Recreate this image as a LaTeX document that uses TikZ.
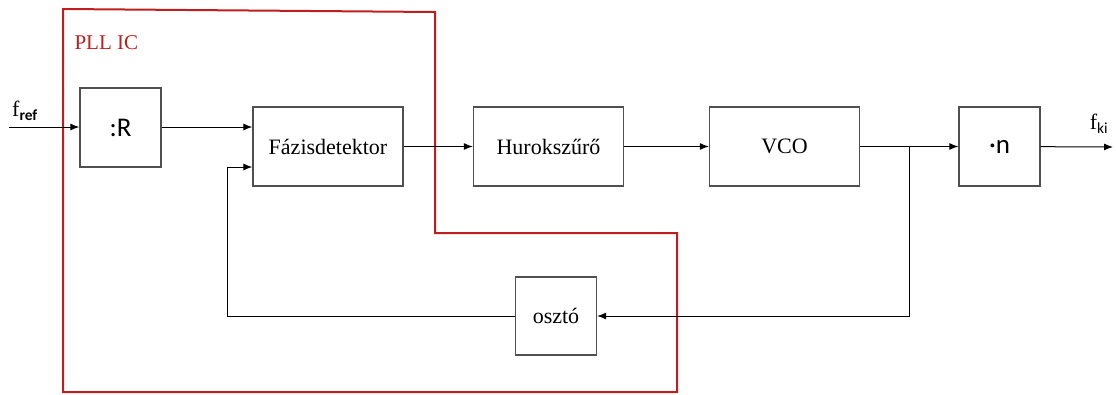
\documentclass[tikz,border=0pt]{standalone}
\usepackage{fontspec}
\setmainfont{Liberation Serif}
\newfontfamily\calibri{Carlito}
\usetikzlibrary{arrows.meta}

\definecolor{icred}{RGB}{190,30,30}
\definecolor{boxgray}{RGB}{80,80,80}

\begin{document}
\begin{tikzpicture}[x=1pt, y=-1pt,
  block/.style={draw=boxgray, line width=1.3pt, minimum width=150pt, minimum height=79pt, font=\fontsize{22}{26}\selectfont},
  smallblock/.style={block, minimum width=81pt},
  sig/.style={line width=1pt, -{Latex[length=9pt, width=7pt]}}]
  \useasboundingbox (0,0) rectangle (1116,394);

  % IC border
  \draw[icred, line width=2pt] (63,9) -- (435,12) -- (435,233) -- (677,233) -- (677,392) -- (63,392) -- cycle;
  \node (ic) [text=icred, font=\fontsize{21}{24}\selectfont, anchor=west] at (71,43) {PLL IC};

  % blocks
  \node (R) [smallblock, font=\calibri\fontsize{27}{30}\selectfont] at (120.5,127.5) {:R};
  \node (fazis) [block] at (328,146.5) {Fázisdetektor};
  \node (hurok) [block] at (548.5,146.5) {Hurokszűrő};
  \node (vco) [block] at (784.5,146.5) {VCO};
  \node (szor) [smallblock, font=\calibri\fontsize{27}{30}\selectfont] at (999.5,146.5) {·n};
  \node (oszto) [smallblock, minimum height=78pt] at (556,316) {osztó};

  \node (fref) [font=\fontsize{22}{26}\selectfont] at (25,111) {f\textsubscript{\calibri\bfseries ref}};
  \node (fki) [font=\fontsize{22}{26}\selectfont] at (1099,124) {f\textsubscript{\calibri ki}};

  \coordinate (in) at (9,127);
  \coordinate (jn) at (909,147);
  \coordinate (out) at (1113,147);
  \coordinate (fb) at (227,167);

  % forward path
  \draw[sig] (in) -- (in -| R.west);
  \draw[sig] (R.east |- in) -- (in -| fazis.west);
  \draw[sig] (fazis) -- (hurok);
  \draw[sig] (hurok) -- (vco);
  \draw[sig] (vco) -- (szor);
  \draw[sig] (szor) -- (out);

  % feedback path
  \draw[sig] (jn) |- (oszto.east);
  \draw[sig] (oszto.west) -| (fb) -- (fb -| fazis.west);
\end{tikzpicture}
\end{document}
